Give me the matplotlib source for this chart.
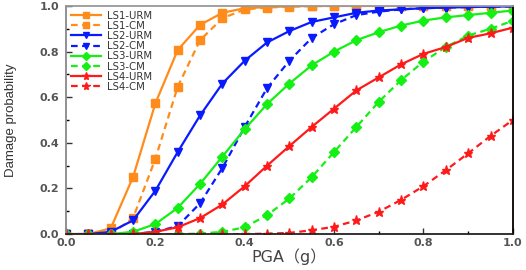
import matplotlib.pyplot as plt

pga = [0.0, 0.05, 0.1, 0.15, 0.2, 0.25, 0.3, 0.35, 0.4, 0.45, 0.5,
       0.55, 0.6, 0.65, 0.7, 0.75, 0.8, 0.85, 0.9, 0.95, 1.0]

ls1_urm = [0.0, 0.0, 0.025, 0.25, 0.573, 0.807, 0.917, 0.97, 0.99, 0.995, 0.998,
           1.0, 1.0, 1.0, 1.0, 1.0, 1.0, 1.0, 1.0, 1.0, 1.0]
ls1_cm = [0.0, 0.0, 0.0, 0.07, 0.33, 0.646, 0.85, 0.946, 0.985, 0.993, 0.997,
          0.999, 1.0, 1.0, 1.0, 1.0, 1.0, 1.0, 1.0, 1.0, 1.0]
ls2_urm = [0.0, 0.0, 0.01, 0.06, 0.19, 0.36, 0.52, 0.66, 0.76, 0.84, 0.89,
           0.93, 0.95, 0.97, 0.98, 0.985, 0.99, 0.993, 0.995, 0.997, 0.998]
ls2_cm = [0.0, 0.0, 0.0, 0.0, 0.01, 0.035, 0.135, 0.29, 0.47, 0.64, 0.76,
          0.86, 0.92, 0.96, 0.975, 0.985, 0.99, 0.993, 0.995, 0.997, 0.998]
ls3_urm = [0.0, 0.0, 0.0, 0.01, 0.044, 0.115, 0.22, 0.34, 0.46, 0.57, 0.66,
           0.74, 0.80, 0.85, 0.885, 0.914, 0.936, 0.95, 0.96, 0.97, 0.98]
ls3_cm = [0.0, 0.0, 0.0, 0.0, 0.0, 0.0, 0.002, 0.01, 0.03, 0.083, 0.156,
          0.25, 0.36, 0.47, 0.58, 0.675, 0.756, 0.82, 0.87, 0.90, 0.935]
ls4_urm = [0.0, 0.0, 0.0, 0.0, 0.01, 0.03, 0.07, 0.13, 0.21, 0.30, 0.386,
           0.47, 0.55, 0.63, 0.687, 0.744, 0.79, 0.82, 0.86, 0.88, 0.905]
ls4_cm = [0.0, 0.0, 0.0, 0.0, 0.0, 0.0, 0.0, 0.0, 0.0, 0.002, 0.005,
          0.017, 0.032, 0.06, 0.098, 0.15, 0.21, 0.28, 0.354, 0.43, 0.50]

series = [
    ("LS1-URM", ls1_urm, "#ff8c1a", "-", "s"),
    ("LS1-CM", ls1_cm, "#ff8c1a", "--", "s"),
    ("LS2-URM", ls2_urm, "#0a1aff", "-", "v"),
    ("LS2-CM", ls2_cm, "#0a1aff", "--", "v"),
    ("LS3-URM", ls3_urm, "#14f014", "-", "D"),
    ("LS3-CM", ls3_cm, "#14f014", "--", "D"),
    ("LS4-URM", ls4_urm, "#ff1a1a", "-", "*"),
    ("LS4-CM", ls4_cm, "#ff1a1a", "--", "*"),
]

plt.rcParams['font.family'] = ['DejaVu Sans', 'Noto Sans CJK SC']

fig = plt.figure(figsize=(5.26, 2.70), dpi=100)
ax = fig.add_axes([0.1255, 0.133, 0.8495, 0.845])

for nome, vals, cor, estilo, marca in series:
    ms = 6.5 if marca == "*" else 5.5
    if marca == "D":
        ms = 5
    ax.plot(pga, vals, color=cor, linestyle=estilo, marker=marca,
            markersize=ms, linewidth=1.6, label=nome,
            dashes=(3, 2) if estilo == "--" else (None, None))

ax.set_xlim(0, 1.0)
ax.set_ylim(0, 1.0)
ax.set_xticks([0.0, 0.2, 0.4, 0.6, 0.8, 1.0])
ax.set_yticks([0.0, 0.2, 0.4, 0.6, 0.8, 1.0])
ax.set_xticks([0.1, 0.3, 0.5, 0.7, 0.9], minor=True)
ax.set_yticks([0.1, 0.3, 0.5, 0.7, 0.9], minor=True)
ax.xaxis.set_major_formatter(plt.FormatStrFormatter('%.1f'))
ax.yaxis.set_major_formatter(plt.FormatStrFormatter('%.1f'))
ax.tick_params(direction='in', length=4, width=1, colors='#333333', labelsize=8,
               labelcolor='#555555', pad=5)
ax.tick_params(axis='x', pad=2.5)
ax.tick_params(which='minor', direction='in', length=2.5, width=1)
for lab in ax.get_xticklabels() + ax.get_yticklabels():
    lab.set_fontweight('bold')

ax.spines['left'].set_color('#888888')
ax.spines['top'].set_color('#999999')
ax.spines['right'].set_color('black')
ax.spines['bottom'].set_color('#222222')
for s in ax.spines.values():
    s.set_linewidth(1.3)

ax.set_xlabel('PGA（g）', fontsize=11.5, color='#444444', labelpad=0.5)
ax.set_ylabel('Damage probability', fontsize=9.5, color='#333333',
              family=['Liberation Sans Narrow', 'Liberation Sans'], labelpad=16)

leg = ax.legend(loc='upper left', frameon=False, fontsize=7.3, handlelength=3.0,
                labelspacing=0.02, borderaxespad=0.15, borderpad=0.3,
                handletextpad=0.55, markerscale=0.9)
for t in leg.get_texts():
    t.set_color('#333333')

fig.savefig('out.png', dpi=100)
